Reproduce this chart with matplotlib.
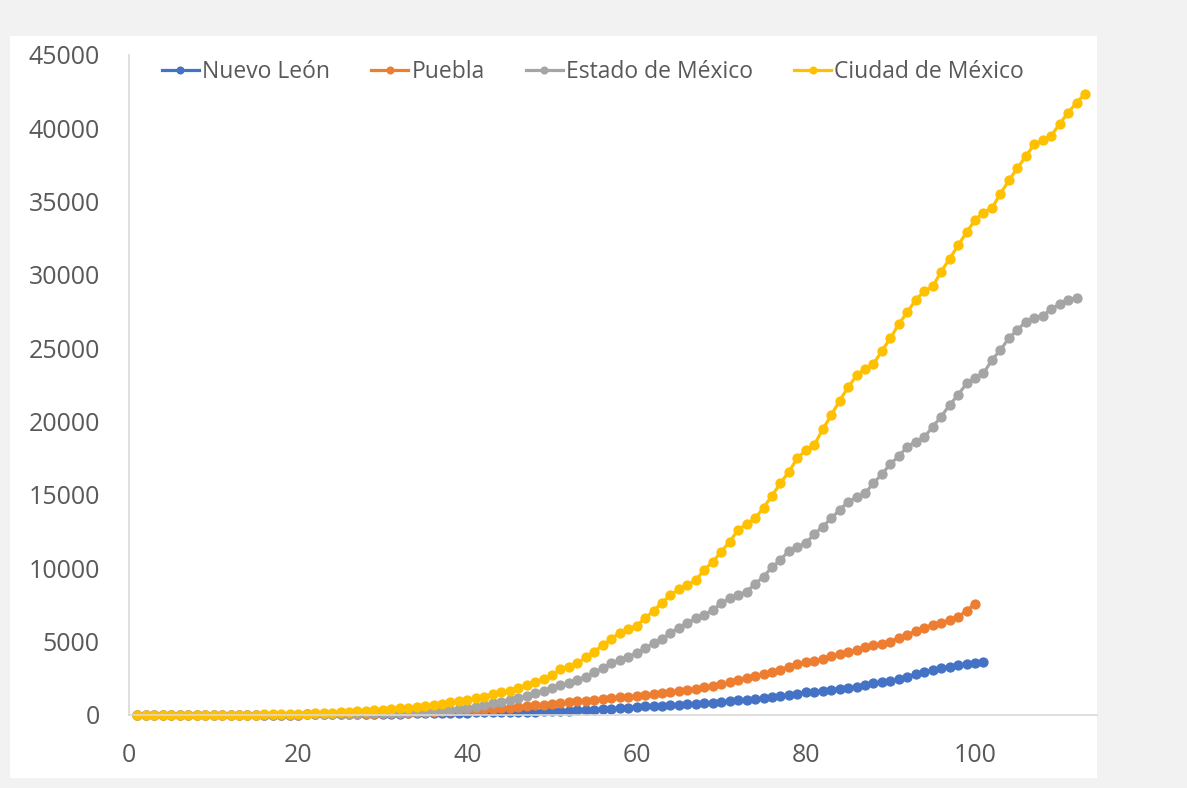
import matplotlib.pyplot as plt
from matplotlib.patches import Rectangle

# casos acumulados por dia
nuevo_leon = [0, 0, 0, 0, 1, 1, 1, 2, 3, 4, 5, 7, 9, 11, 14, 17, 20, 24, 28, 33,
              38, 43, 48, 54, 60, 66, 72, 78, 84, 90, 96, 102, 108, 115, 122, 130, 138, 146, 154, 163,
              172, 182, 192, 200, 210, 218, 226, 236, 248, 260,
              275, 300, 330, 355, 375, 395, 430, 470, 510, 550,
              590, 610, 640, 665, 690, 720, 760, 800, 830, 870,
              930, 1000, 1050, 1100, 1160, 1230, 1300, 1380, 1460, 1560,
              1600, 1650, 1730, 1800, 1860, 1930, 2050, 2150, 2230, 2340,
              2460, 2620, 2770, 2920, 3070, 3200, 3300, 3380, 3460, 3560, 3640]

puebla = [0, 0, 0, 0, 0, 1, 1, 2, 3, 4, 5, 6, 8, 10, 12, 14, 17, 20, 24, 28,
          35, 40, 46, 52, 58, 66, 75, 85, 100, 115,
          130, 150, 170, 190, 210, 230, 255, 280, 310, 340,
          370, 400, 430, 470, 510, 550, 600, 650, 700, 760,
          800, 870, 930, 980, 1030, 1100, 1160, 1200, 1240, 1290,
          1340, 1400, 1470, 1560, 1640, 1720, 1800, 1900, 1990, 2090,
          2220, 2400, 2530, 2660, 2780, 2930, 3100, 3280, 3450, 3620,
          3700, 3800, 4000, 4180, 4300, 4450, 4620, 4760, 4830, 5000,
          5250, 5480, 5700, 5930, 6150, 6300, 6450, 6700, 7100, 7600]

edomex = [0, 0, 0, 0, 0, 1, 1, 2, 3, 4, 5, 6, 8, 10, 12, 15, 18, 22, 26, 31,
          37, 44, 52, 61, 71, 82, 94, 107, 121, 136,
          152, 170, 190, 212, 236, 262, 300, 340, 400, 480,
          570, 680, 800, 910, 1020, 1140, 1300, 1480, 1660, 1820,
          2050, 2160, 2390, 2610, 2950, 3180, 3520, 3750, 3980, 4210,
          4550, 4890, 5200, 5600, 5950, 6250, 6590, 6820, 7160, 7620,
          7960, 8180, 8410, 8930, 9430, 10070, 10570, 11200, 11480, 11710,
          12340, 12840, 13410, 13980, 14540, 14840, 15120, 15800, 16430, 17110,
          17660, 18290, 18640, 18930, 19660, 20340, 21140, 21820, 22610, 22960,
          23300, 24200, 24890, 25680, 26250, 26820, 27050, 27230, 27660, 28020, 28300, 28450]

cdmx = [1, 1, 2, 3, 4, 5, 6, 8, 10, 12, 15, 18, 22, 26, 32, 40, 48, 58, 70, 85,
        100, 120, 140, 165, 190, 220, 250, 285, 320, 360,
        400, 450, 500, 560, 620, 690, 780, 870, 950, 1020,
        1140, 1250, 1430, 1550, 1660, 1820, 2050, 2270, 2450, 2730,
        3110, 3290, 3520, 3930, 4320, 4770, 5180, 5610, 5860, 6090,
        6590, 7110, 7660, 8180, 8570, 8860, 9200, 9890, 10450, 11130,
        11820, 12610, 13020, 13410, 14130, 14950, 15800, 16590, 17500, 18070,
        18410, 19480, 20430, 21440, 22340, 23150, 23570, 23930, 24840, 25690,
        26660, 27470, 28320, 28890, 29220, 30230, 31110, 32020, 32910, 33750,
        34260, 34570, 35520, 36460, 37270, 38090, 38910, 39200, 39480, 40300,
        41070, 41750, 42340]

series = [("Nuevo León", nuevo_leon, "#4472C4"),
          ("Puebla", puebla, "#ED7D31"),
          ("Estado de México", edomex, "#A5A5A5"),
          ("Ciudad de México", cdmx, "#FFC000")]

W, H = 1187, 788
fig = plt.figure(figsize=(W / 100, H / 100), dpi=100)
fig.patch.set_facecolor("#f2f2f2")
# zona blanca del grafico (detras de los ejes)
fig.patches.append(Rectangle((10 / W, 1 - 778 / H), 1087 / W, 742 / H,
                             transform=fig.transFigure, facecolor="white",
                             edgecolor="none", zorder=-5))

ax = fig.add_axes([129 / W, 1 - 715 / H, (1097 - 129) / W, (715 - 55) / H])
ax.set_facecolor("none")
ax.set_zorder(2)

for nombre, valores, color in series:
    dias = list(range(1, len(valores) + 1))
    ax.plot(dias, valores, "-o", color=color, lw=2.3, ms=6.4, label=nombre,
            clip_on=False)

ax.set_xlim(0, (1097 - 129) / 8.46)
ax.set_ylim(0, 45000)
ax.set_xticks([0, 20, 40, 60, 80, 100])
ax.set_yticks(range(0, 45001, 5000))

for lado in ["top", "right"]:
    ax.spines[lado].set_visible(False)
for lado in ["left", "bottom"]:
    ax.spines[lado].set_color("#d9d9d9")
    ax.spines[lado].set_linewidth(1.2)

ax.tick_params(length=0, labelsize=18, labelcolor="#595959")
ax.tick_params(axis="y", pad=21)
ax.tick_params(axis="x", pad=20)
for t in ax.get_xticklabels() + ax.get_yticklabels():
    t.set_family("Open Sans")

fig.legend(loc="center", bbox_to_anchor=(593 / W, 1 - 72 / H), ncol=4,
           frameon=False, prop={"family": "Open Sans", "size": 16.5},
           labelcolor="#595959", handlelength=1.6, handletextpad=0.15,
           columnspacing=1.8, markerscale=0.75)

fig.savefig("out.png", dpi=100, facecolor=fig.get_facecolor())
